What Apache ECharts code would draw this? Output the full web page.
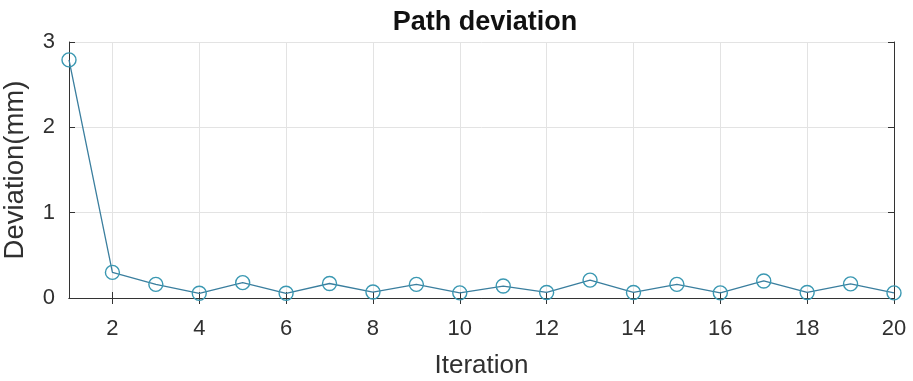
<!DOCTYPE html>
<html>
<head>
<meta charset="utf-8">
<script src="https://cdn.jsdelivr.net/npm/echarts@6/dist/echarts.min.js"></script>
<style>
html,body{margin:0;padding:0;background:#fff;}
#chart{width:913px;height:381px;}
</style>
</head>
<body>
<div id="chart"></div>
<script>
const iterations = [1,2,3,4,5,6,7,8,9,10,11,12,13,14,15,16,17,18,19,20];
const deviation = [2.79,0.30,0.16,0.055,0.18,0.055,0.17,0.07,0.16,0.06,0.14,0.065,0.21,0.065,0.16,0.06,0.20,0.065,0.165,0.06];
const xTicks = [2,4,6,8,10,12,14,16,18,20];
const yTicks = [0,1,2,3];

const font = 'Liberation Sans, Arial, sans-serif';
const axisColor = '#333333';
const textColor = '#303030';
const gridColor = '#e3e3e3';
const lineColor = '#3a7e9e';
const markerColor = '#3a98b2';

const chart = echarts.init(document.getElementById('chart'));
const baseX = {
  type: 'value', min: 1, max: 20,
  axisLine: {show: true, lineStyle: {color: axisColor, width: 1}},
  axisTick: {show: true, inside: true, length: 6, customValues: xTicks, lineStyle: {color: axisColor}},
  axisLabel: {customValues: xTicks, color: textColor, fontSize: 22, fontFamily: font, margin: 20},
  splitLine: {show: false}
};
const baseY = {
  type: 'value', min: 0, max: 3, interval: 1,
  axisLine: {show: true, lineStyle: {color: axisColor, width: 1}},
  axisTick: {show: true, inside: true, length: 6, lineStyle: {color: axisColor}},
  axisLabel: {color: textColor, fontSize: 22, fontFamily: font, margin: 14},
  splitLine: {show: false}
};
chart.setOption({
  animation: false,
  title: {
    text: 'Path deviation', left: 480, top: 4, textAlign: 'center',
    textStyle: {fontSize: 27, fontWeight: 'bold', color: '#111', fontFamily: font}
  },
  grid: {left: 69, right: 19, top: 42, bottom: 83, outerBoundsMode: 'none', containLabel: false},
  xAxis: [
    Object.assign({}, baseX, {
      position: 'bottom',
      name: 'Iteration', nameLocation: 'middle', nameGap: 55,
      nameTextStyle: {fontSize: 26, color: textColor, fontFamily: font},
      splitLine: {show: true, lineStyle: {color: gridColor, width: 1}}
    }),
    Object.assign({}, baseX, {
      position: 'top',
      axisLabel: {show: false, customValues: xTicks}
    })
  ],
  yAxis: [
    Object.assign({}, baseY, {
      position: 'left',
      name: 'Deviation(mm)', nameLocation: 'middle', nameGap: 40,
      nameTextStyle: {fontSize: 27.5, color: textColor, fontFamily: font},
      splitLine: {show: true, lineStyle: {color: gridColor, width: 1}}
    }),
    Object.assign({}, baseY, {
      position: 'right',
      axisLabel: {show: false}
    })
  ],
  series: [{
    type: 'line',
    xAxisIndex: 0, yAxisIndex: 0,
    data: iterations.map((x, i) => [x, deviation[i]]),
    symbol: 'circle',
    symbolSize: 14,
    showAllSymbol: true,
    clip: false,
    lineStyle: {color: lineColor, width: 1.3},
    itemStyle: {color: 'rgba(255,255,255,0)', borderColor: markerColor, borderWidth: 1.4}
  }]
});
</script>
</body>
</html>
